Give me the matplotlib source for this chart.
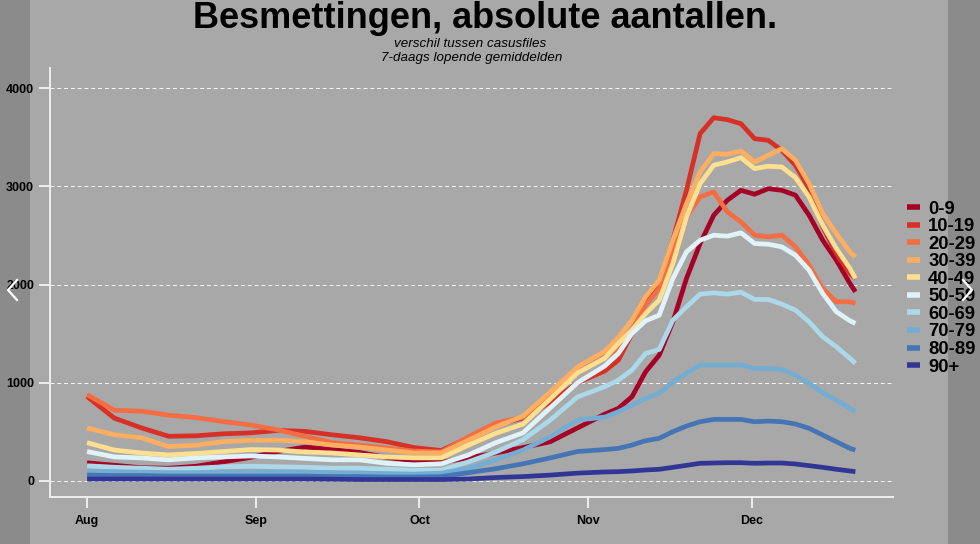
import matplotlib
matplotlib.use("Agg")
import matplotlib.pyplot as plt
import matplotlib.dates as mdates
import pandas as pd
from matplotlib.lines import Line2D
from matplotlib.patches import Rectangle

plt.rcParams["font.family"] = ["Liberation Sans", "DejaVu Sans"]

# 7-daagse gemiddelden; dag 0 = 1 aug
START = pd.Timestamp("2021-08-01")
dagen = [0, 5, 10, 15, 20, 25, 30, 35, 40, 45, 50, 55, 60, 65, 70, 75, 80, 85, 90, 95,
         97.5, 100, 102.5, 105, 107.5, 110, 112.5, 115, 117.5, 120, 122.5, 125, 127.5,
         130, 132.5, 135, 137.5, 140, 141]
groepen = ["0-9", "10-19", "20-29", "30-39", "40-49", "50-59", "60-69", "70-79", "80-89", "90+"]

g_0_9 = [185, 160, 135, 130, 150, 195, 240, 300, 345, 320, 290, 240, 205, 190, 235, 285, 340, 400, 540, 680,
         739, 858, 1112, 1281, 1620, 2061, 2417, 2705, 2858, 2959, 2919, 2976, 2959, 2909, 2705, 2451, 2248, 2010, 1926]
g_10_19 = [860, 640, 540, 455, 460, 480, 490, 515, 505, 470, 440, 400, 340, 310, 440, 570, 640, 800, 1000, 1120,
           1230, 1500, 1840, 2017, 2450, 2960, 3536, 3698, 3678, 3637, 3485, 3468, 3366, 3214, 2976, 2587, 2315, 2112, 2060]
g_20_29 = [880, 720, 710, 670, 645, 605, 570, 520, 455, 390, 365, 335, 305, 295, 450, 590, 650, 870, 1100, 1260,
           1349, 1536, 1790, 1959, 2315, 2688, 2892, 2943, 2739, 2637, 2502, 2485, 2502, 2383, 2197, 1959, 1824, 1824, 1807]
g_30_39 = [540, 470, 440, 350, 365, 400, 415, 415, 400, 365, 345, 315, 285, 285, 415, 550, 660, 905, 1160, 1320,
           1461, 1637, 1875, 2044, 2451, 2824, 3146, 3332, 3326, 3359, 3248, 3315, 3383, 3265, 3027, 2722, 2519, 2332, 2281]
g_40_49 = [390, 315, 285, 265, 280, 300, 320, 315, 295, 285, 265, 245, 235, 235, 365, 485, 580, 835, 1100, 1250,
           1400, 1536, 1705, 1841, 2214, 2688, 3027, 3214, 3248, 3292, 3180, 3204, 3197, 3088, 2892, 2604, 2366, 2163, 2061]
g_50_59 = [300, 245, 235, 215, 235, 245, 255, 245, 230, 215, 215, 180, 165, 175, 265, 390, 490, 745, 1000, 1170,
           1298, 1502, 1631, 1688, 2061, 2332, 2451, 2502, 2492, 2526, 2417, 2410, 2383, 2298, 2146, 1909, 1722, 1631, 1604]
g_60_69 = [155, 140, 130, 120, 130, 145, 150, 145, 140, 130, 130, 120, 110, 110, 195, 295, 420, 620, 855, 960,
           1027, 1129, 1298, 1339, 1637, 1773, 1902, 1915, 1902, 1922, 1848, 1848, 1800, 1739, 1620, 1468, 1366, 1248, 1197]
g_70_79 = [95, 95, 90, 85, 85, 90, 90, 90, 90, 85, 80, 75, 70, 80, 130, 215, 315, 450, 620, 650,
           705, 773, 841, 892, 1010, 1095, 1180, 1180, 1180, 1180, 1146, 1146, 1136, 1078, 993, 898, 824, 739, 705]
g_80_89 = [60, 55, 55, 50, 50, 50, 50, 50, 50, 45, 45, 40, 40, 45, 85, 125, 175, 235, 300, 320,
           332, 366, 410, 434, 502, 559, 603, 627, 627, 627, 603, 610, 603, 580, 536, 468, 400, 332, 315]
g_90 = [20, 20, 20, 20, 20, 20, 20, 20, 20, 18, 15, 15, 15, 15, 20, 35, 45, 60, 80, 92,
        95, 102, 112, 119, 139, 159, 180, 183, 186, 186, 180, 183, 183, 173, 156, 139, 119, 102, 95]

reeksen = [g_0_9, g_10_19, g_20_29, g_30_39, g_40_49, g_50_59, g_60_69, g_70_79, g_80_89, g_90]
kleuren = ["#a50026", "#d73027", "#f46d43", "#fdae61", "#fee090",
           "#e0f3f8", "#abd9e9", "#74add1", "#4575b4", "#313695"]

BG = "#a8a8a8"
datums = [START + pd.Timedelta(days=d) for d in dagen]

fig = plt.figure(figsize=(9.8, 5.44), dpi=100, facecolor=BG)
ax = fig.add_axes((50 / 980, 1 - 497 / 544, 843 / 980, 429 / 544))
ax.set_facecolor(BG)

for vals, kleur, naam in zip(reeksen, kleuren, groepen):
    ax.plot(datums, vals, color=kleur, linewidth=3.4, label=naam,
            solid_joinstyle="round", solid_capstyle="butt")

ax.set_ylim(-163, 4204)
ax.set_xlim(START - pd.Timedelta(days=6.8), START + pd.Timedelta(days=147.9))
ax.set_yticks([0, 1000, 2000, 3000, 4000])
ax.xaxis.set_major_locator(mdates.MonthLocator())
ax.xaxis.set_major_formatter(mdates.DateFormatter("%b"))

ax.grid(axis="y", color="white", linestyle=(0, (4, 3)), linewidth=0.7, alpha=0.9)
ax.grid(axis="x", visible=False)
for s in ["top", "right"]:
    ax.spines[s].set_visible(False)
for s in ["left", "bottom"]:
    ax.spines[s].set_color("#eeeeee")
    ax.spines[s].set_linewidth(1.4)
ax.tick_params(colors="#eeeeee", width=1.4, length=8, labelcolor="black", labelsize=9)
for lab in ax.get_xticklabels() + ax.get_yticklabels():
    lab.set_fontweight("bold")
ax.tick_params(axis="y", pad=3.5)
ax.tick_params(axis="x", pad=5)

leg = ax.legend(loc="center left", bbox_to_anchor=(1.0, 0.487), frameon=False,
                prop={"weight": "bold", "size": 13.3}, handlelength=0.7,
                handletextpad=0.45, labelspacing=0.03, borderaxespad=0.35)
for h in leg.legend_handles:
    h.set_linewidth(4)

fig.text(485 / 980, 1 - 28 / 544, "Besmettingen, absolute aantallen.", ha="center",
         va="baseline", fontsize=26, fontweight="bold")
fig.text(470 / 980, 1 - 47 / 544, "verschil tussen casusfiles", ha="center",
         va="baseline", fontsize=9.6, style="italic")
fig.text(472 / 980, 1 - 61 / 544, "7-daags lopende gemiddelden", ha="center",
         va="baseline", fontsize=9.6, style="italic")

# donkere zijbalken en pijlen van de carrousel
fig.patches.append(Rectangle((0, 0), 30 / 980, 1, transform=fig.transFigure,
                             facecolor="black", alpha=0.17, zorder=10))
fig.patches.append(Rectangle((948 / 980, 0), 32 / 980, 1, transform=fig.transFigure,
                             facecolor="black", alpha=0.17, zorder=10))
fig.lines.append(Line2D([17 / 980, 8 / 980, 17 / 980], [1 - 280 / 544, 1 - 290 / 544, 1 - 300 / 544],
                        transform=fig.transFigure, color="white", linewidth=1.6, zorder=11))
fig.lines.append(Line2D([963 / 980, 972 / 980, 963 / 980], [1 - 280 / 544, 1 - 290 / 544, 1 - 300 / 544],
                        transform=fig.transFigure, color="white", linewidth=1.6, zorder=11))

fig.savefig("out.png", dpi=100, facecolor=BG)
